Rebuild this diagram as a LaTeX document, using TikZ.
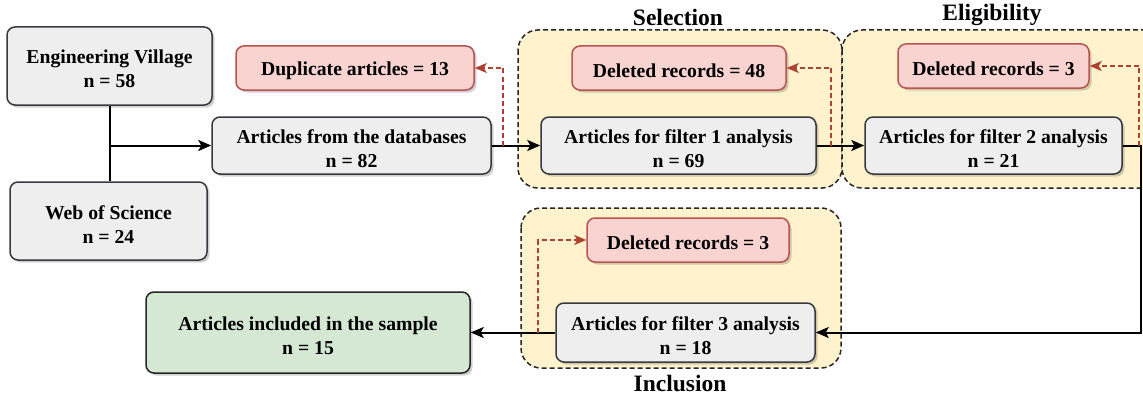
\documentclass[tikz,border=0pt]{standalone}
\usepackage{fontspec}
\setmainfont{Liberation Serif}
\usetikzlibrary{arrows.meta,shadows}
\definecolor{greyfill}{HTML}{EEEEEE}
\definecolor{greyline}{HTML}{36393D}
\definecolor{redfill}{HTML}{F8D3D0}
\definecolor{redline}{HTML}{B85450}
\definecolor{redarrow}{HTML}{AE4132}
\definecolor{greenfill}{HTML}{D5E8D4}
\definecolor{yellowfill}{HTML}{FFF2CC}
\newcommand{\topst}{\rule{0pt}{20pt}}
\begin{document}
\begin{tikzpicture}[x=1pt,y=-1pt,
  basebox/.style={rectangle, rounded corners=8pt, line width=1.5pt, align=center, inner sep=0pt,
    font=\bfseries\fontsize{19.7}{24}\selectfont,
    drop shadow={shadow xshift=2.5pt, shadow yshift=-2.5pt, opacity=0.18, fill=black}},
  greybox/.style={basebox, draw=greyline, fill=greyfill},
  redbox/.style={basebox, draw=redline, fill=redfill},
  greenbox/.style={basebox, draw=black!85, fill=greenfill},
  grp/.style={draw=black!85, fill=yellowfill, line width=1.5pt, dash pattern=on 5pt off 3pt, rounded corners=20pt},
  conn/.style={draw=black, line width=2pt, -{Stealth[length=13pt,width=11pt,inset=3pt]}},
  dconn/.style={draw=redarrow, line width=1.5pt, dash pattern=on 5pt off 3pt, -{Stealth[length=12pt,width=10pt,inset=3pt]}},
  ttl/.style={font=\bfseries\fontsize{23.5}{28}\selectfont, inner sep=0pt}
]
\useasboundingbox (0,0) rectangle (1143,396);
\clip (0,0) rectangle (1143,396);

% groups
\draw[grp] (518,30) rectangle (842,188);
\draw[grp] (842,30) rectangle (1175,188);
\draw[grp] (521,208) rectangle (841,368);
\node[ttl] (tsel) at (678,17) {Selection};
\node[ttl] (telig) at (992,15) {Eligibility};
\node[ttl] (tincl) at (680,383) {Inclusion};

% nodes
\node[greybox, minimum width=205pt, minimum height=78pt] (ev) at (109.5,66) {\topst Engineering Village\\n = 58};
\node[greybox, minimum width=197pt, minimum height=78pt] (wos) at (108.5,221) {\topst Web of Science\\n = 24};
\node[greybox, minimum width=279pt, minimum height=57pt] (db) at (351.5,145.5) {\topst Articles from the databases\\n = 82};
\node[redbox, minimum width=238pt, minimum height=44pt] (dup) at (355,68) {\topst Duplicate articles = 13};
\node[greybox, minimum width=275pt, minimum height=57pt] (f1) at (678.5,145.5) {\topst Articles for filter 1 analysis\\n = 69};
\node[redbox, minimum width=214pt, minimum height=44pt] (d1) at (679,68) {\topst Deleted records = 48};
\node[greybox, minimum width=257pt, minimum height=57pt] (f2) at (993.5,145.5) {\topst Articles for filter 2 analysis\\n = 21};
\node[redbox, minimum width=191pt, minimum height=44pt] (d2) at (993.5,66) {\topst Deleted records = 3};
\node[greybox, minimum width=259pt, minimum height=59pt] (f3) at (685.5,332.5) {\topst Articles for filter 3 analysis\\n = 18};
\node[redbox, minimum width=202pt, minimum height=44pt] (d3) at (688,240) {\topst Deleted records = 3};
\node[greenbox, minimum width=324pt, minimum height=81pt] (inc) at (308,332.5) {\topst Articles included in the sample\\n = 15};

% connector points
\coordinate (j) at (110,145.5);
\coordinate (s0) at (503,145.5);
\coordinate (s1) at (831,145.5);
\coordinate (s2) at (1139,145.5);
\coordinate (rt) at (1141,145.5);
\coordinate (s3) at (538,332.5);

% connectors
\draw[line width=2pt] (ev.south -| j) -- (wos.north -| j);
\draw[conn] (j) -- (db.west);
\draw[conn] (db.east) -- (f1.west);
\draw[conn] (f1.east) -- (f2.west);
\draw[conn] (f2.east) -- (rt) |- (f3.east);
\draw[conn] (f3.west) -- (inc.east);

\draw[dconn] (s0) |- (dup.east);
\draw[dconn] (s1) |- (d1.east);
\draw[dconn] (s2) |- (d2.east);
\draw[dconn] (s3) |- (d3.west);
\end{tikzpicture}
\end{document}
